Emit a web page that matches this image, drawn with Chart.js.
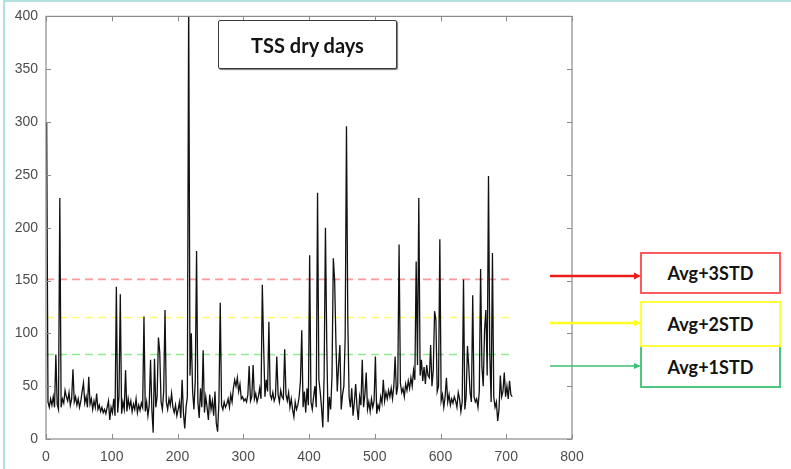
<!DOCTYPE html>
<html>
<head>
<meta charset="utf-8">
<script src="https://cdn.jsdelivr.net/npm/chart.js@4.4.1/dist/chart.umd.min.js"></script>
<style>
  html, body { margin: 0; padding: 0; background: #fff; }
  #wrap { position: relative; width: 791px; height: 469px; overflow: hidden; background: #fff; }
  #frameTL { position: absolute; left: 3px; top: 0; width: 790px; height: 469px; border-top: 2px solid #b3e0e0; border-left: 2px solid #b3e0e0; box-sizing: border-box; pointer-events: none; }
  canvas { position: absolute; left: 0; top: 0; }
  .box { position: absolute; box-sizing: border-box; display: flex; align-items: center; justify-content: center;
         font-family: Lato, "Open Sans", sans-serif; font-weight: 700; color: #141414; background: #fff; }
  #titleBox { left: 218px; top: 20px; width: 179px; height: 49px; border: 1.5px solid #3a3a3a; border-radius: 2px;
              box-shadow: 1px 1px 1px #777; font-size: 20px; }
  .lbl { left: 640px; width: 141px; font-size: 18px; border: 2px solid; }
  #b3 { top: 252px; height: 42px; border-color: #ff5b5b; }
  #b1 { top: 345px; height: 43px; border-color: #4ec77c; }
  #b2 { top: 301px; height: 46px; border-color: #ffff40; }
  svg { position: absolute; left: 0; top: 0; }
</style>
</head>
<body>
<div id="wrap">
  <canvas id="c" width="791" height="469"></canvas>
  <div id="frameTL"></div>
  <div id="titleBox" class="box">TSS dry days</div>
  <div id="b3" class="box lbl">Avg+3STD</div>
  <div id="b1" class="box lbl">Avg+1STD</div>
  <div id="b2" class="box lbl">Avg+2STD</div>
  <svg width="791" height="469">
    <line x1="550" y1="276" x2="636" y2="276" stroke="#ee1c1c" stroke-width="2.5"/>
    <polygon points="634,272.5 641,276 634,279.5" fill="#ee1c1c"/>
    <line x1="550" y1="323" x2="636" y2="323" stroke="#ffff20" stroke-width="2.5"/>
    <polygon points="634,319.5 641,323 634,326.5" fill="#ffff20"/>
    <line x1="550" y1="366" x2="636" y2="366" stroke="#3fbf72" stroke-width="1.6"/>
    <polygon points="634,363 641,366 634,369" fill="#3fbf72"/>
  </svg>
</div>
<script>
// TSS values on dry days, one reading every second day starting at day 1
const tssValues = [
  300,35,30,38,32,40,30,80,33,28,
  228,30,38,34,46,40,36,44,32,38,
  66,35,40,32,38,30,36,45,53,34,
  40,30,59,33,38,28,36,30,43,28,
  32,26,30,25,28,24,30,36,18,30,
  25,38,22,144,25,40,137,24,35,28,
  65,26,38,30,36,26,33,28,38,25,
  32,27,34,30,116,26,35,22,32,75,
  28,6,76,30,40,96,82,35,28,45,
  122,35,28,38,32,43,30,25,32,22,
  28,35,20,56,25,10,30,40,420,60,
  100,45,28,55,178,35,20,48,30,84,
  25,40,30,18,42,28,36,22,45,15,
  7,35,129,32,28,35,30,33,38,30,
  42,35,48,56,50,58,45,52,38,40,
  36,38,35,42,69,36,40,70,38,43,
  35,40,48,38,146,88,40,56,45,111,
  42,38,44,36,40,78,42,35,46,40,
  38,85,42,36,44,30,38,28,21,35,
  28,32,40,55,103,30,45,25,48,32,
  174,35,28,40,50,30,233,56,45,30,
  11,60,200,91,16,40,28,60,171,150,
  90,45,70,89,28,42,50,95,296,113,
  40,30,48,22,35,52,30,18,40,32,
  75,30,42,63,28,35,26,38,30,36,
  78,24,32,28,40,34,56,36,44,38,
  46,40,48,38,50,78,42,50,184,53,
  44,48,40,52,46,55,48,58,50,65,
  56,168,70,228,60,75,55,68,52,70,
  60,58,89,50,65,121,113,45,50,189,
  36,42,30,40,58,35,42,32,38,34,
  40,36,30,44,38,26,35,151,28,40,
  88,68,44,35,136,40,35,38,30,45,
  161,68,50,103,122,60,249,80,35,176,
  40,30,35,17,28,60,40,45,63,40,
  50,38,55,42,40
];
const dayNumbers = tssValues.map((_, i) => 1 + 2 * i);

const thresholdNames  = ['Avg+3STD', 'Avg+2STD', 'Avg+1STD'];
const thresholdValues = [151, 115, 80];
const thresholdColors = ['rgba(255,120,120,0.75)', 'rgba(255,255,90,0.85)', 'rgba(110,235,110,0.8)'];
const thresholdSpan   = [0, 710];

const xTicks = [0, 100, 200, 300, 400, 500, 600, 700, 800];
const yTicks = [0, 50, 100, 150, 200, 250, 300, 350, 400];

const datasets = [{
  label: 'TSS',
  data: dayNumbers.map((d, i) => ({ x: d, y: tssValues[i] })),
  borderColor: '#111',
  borderWidth: 1.3,
  pointRadius: 0,
  tension: 0,
  order: 0
}];
thresholdValues.forEach((v, k) => {
  datasets.push({
    label: thresholdNames[k],
    data: thresholdSpan.map(x => ({ x: x, y: v })),
    borderColor: thresholdColors[k],
    borderWidth: 1.7,
    borderDash: [8, 5],
    pointRadius: 0,
    order: 1
  });
});

const AXIS_COLOR = '#8a8a8a';
const TICK_COLOR = '#4d4d4d';

const boxTicks = {
  id: 'boxTicks',
  afterDraw(chart) {
    const { ctx, chartArea: a, scales } = chart;
    ctx.save();
    ctx.strokeStyle = AXIS_COLOR;
    ctx.lineWidth = 1;
    ctx.beginPath();
    xTicks.forEach(v => {
      const px = Math.round(scales.x.getPixelForValue(v)) + 0.5;
      ctx.moveTo(px, a.bottom); ctx.lineTo(px, a.bottom - 5);
      ctx.moveTo(px, a.top); ctx.lineTo(px, a.top + 5);
    });
    yTicks.forEach(v => {
      const py = Math.round(scales.y.getPixelForValue(v)) + 0.5;
      ctx.moveTo(a.left, py); ctx.lineTo(a.left + 5, py);
      ctx.moveTo(a.right, py); ctx.lineTo(a.right - 5, py);
    });
    ctx.stroke();
    ctx.lineWidth = 1.2;
    ctx.strokeRect(a.left, a.top, a.right - a.left, a.bottom - a.top);
    ctx.restore();
  }
};

new Chart(document.getElementById('c'), {
  type: 'line',
  data: { datasets },
  options: {
    responsive: false,
    animation: false,
    events: [],
    layout: { padding: { left: 0, right: 219, top: 16, bottom: 0 } },
    plugins: { legend: { display: false }, tooltip: { enabled: false } },
    scales: {
      x: {
        type: 'linear', min: 0, max: 800,
        afterBuildTicks: s => { s.ticks = xTicks.map(v => ({ value: v })); },
        afterFit: s => { s.height = 30; },
        ticks: { color: TICK_COLOR, font: { family: 'Liberation Sans', size: 14 }, padding: 10, maxRotation: 0 },
        grid: { drawOnChartArea: false, drawTicks: false },
        border: { display: false }
      },
      y: {
        type: 'linear', min: 0, max: 400,
        afterBuildTicks: s => { s.ticks = yTicks.map(v => ({ value: v })); },
        afterFit: s => { s.width = 46; },
        ticks: { color: TICK_COLOR, font: { family: 'Liberation Sans', size: 14 }, padding: 8 },
        grid: { drawOnChartArea: false, drawTicks: false },
        border: { display: false }
      }
    }
  },
  plugins: [boxTicks]
});
</script>
</body>
</html>
